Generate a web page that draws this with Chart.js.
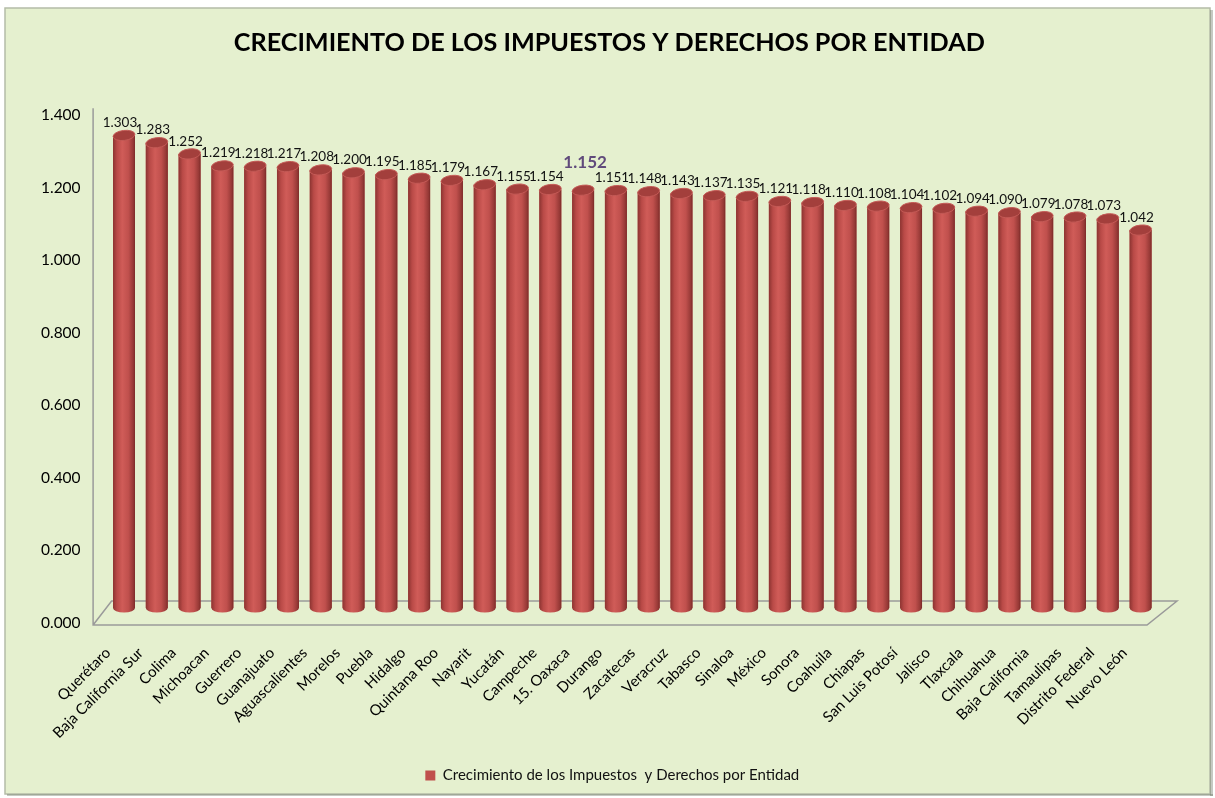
<!DOCTYPE html>
<html>
<head>
<meta charset="utf-8">
<script src="https://cdn.jsdelivr.net/npm/chart.js@4/dist/chart.umd.min.js"></script>
<style>
  html, body { margin: 0; padding: 0; background: #ffffff; }
  canvas { display: block; }
</style>
</head>
<body>
<canvas id="impuestos-chart" width="1215" height="798"></canvas>
<script>
// datos
const entidades = [
  'Querétaro', 'Baja California Sur', 'Colima', 'Michoacan', 'Guerrero', 'Guanajuato',
  'Aguascalientes', 'Morelos', 'Puebla', 'Hidalgo', 'Quintana Roo', 'Nayarit',
  'Yucatán', 'Campeche', '15. Oaxaca', 'Durango', 'Zacatecas', 'Veracruz',
  'Tabasco', 'Sinaloa', 'México', 'Sonora', 'Coahuila', 'Chiapas',
  'San Luis Potosí', 'Jalisco', 'Tlaxcala', 'Chihuahua', 'Baja California',
  'Tamaulipas', 'Distrito Federal', 'Nuevo León'
];
const crecimiento = [
  1.303, 1.283, 1.252, 1.219, 1.218, 1.217,
  1.208, 1.200, 1.195, 1.185, 1.179, 1.167,
  1.155, 1.154, 1.152, 1.151, 1.148, 1.143,
  1.137, 1.135, 1.121, 1.118, 1.110, 1.108,
  1.104, 1.102, 1.094, 1.090, 1.079,
  1.078, 1.073, 1.042
];
const yTicks = [0, 0.2, 0.4, 0.6, 0.8, 1.0, 1.2, 1.4];
const destacado = '15. Oaxaca';

const FONT = 'Lato, "Liberation Sans", sans-serif';

// fondo del panel con borde
const panelPlugin = {
  id: 'panel',
  afterLayout(chart) {
    // el titulo y la leyenda van algo a la derecha, como en Excel
    if (chart.titleBlock) { chart.titleBlock.left += 17; chart.titleBlock.right += 17; }
    if (chart.legend) { chart.legend.left += 20; chart.legend.right += 20; }
  },
  beforeDraw(chart) {
    const ctx = chart.ctx;
    ctx.save();
    ctx.fillStyle = '#ffffff';
    ctx.fillRect(0, 0, chart.width, chart.height);
    ctx.fillStyle = '#e5f0cf';
    ctx.fillRect(5, 8, 1205, 786);
    ctx.strokeStyle = '#b4bca8';
    ctx.lineWidth = 1.5;
    ctx.strokeRect(5, 8, 1205, 786);
    ctx.fillStyle = 'rgba(90,100,80,0.35)';
    ctx.fillRect(1210, 10, 3, 786);
    ctx.fillRect(7, 794, 1206, 2);
    ctx.restore();
  }
};

// piso 3D y eje vertical
const floorPlugin = {
  id: 'floor3d',
  beforeDatasetsDraw(chart) {
    const { ctx, chartArea: a } = chart;
    const front = a.bottom + 17, back = a.bottom - 7;
    ctx.save();
    ctx.strokeStyle = '#9a9a9a';
    ctx.lineWidth = 1.5;
    ctx.beginPath();
    ctx.moveTo(a.left - 14.5, a.top + 8);
    ctx.lineTo(a.left - 14.5, front);
    ctx.lineTo(a.right - 10, front);
    ctx.lineTo(a.right + 20, back);
    ctx.lineTo(a.left + 4, back);
    ctx.lineTo(a.left - 14.5, front);
    ctx.stroke();
    ctx.restore();
  }
};

// sombreado cilindrico sobre las barras + etiquetas de valor
const cylinderPlugin = {
  id: 'cylinder',
  afterDatasetsDraw(chart) {
    const ctx = chart.ctx;
    const meta = chart.getDatasetMeta(0);
    ctx.save();
    meta.data.forEach((bar, i) => {
      const w = bar.width, x0 = bar.x - w / 2, x1 = bar.x + w / 2;
      const ry = 4.5;
      const g = ctx.createLinearGradient(x0, 0, x1, 0);
      g.addColorStop(0, '#8c3431');
      g.addColorStop(0.18, '#b94a47');
      g.addColorStop(0.42, '#d05c58');
      g.addColorStop(0.7, '#c0504d');
      g.addColorStop(0.92, '#963936');
      g.addColorStop(1, '#7a2a28');
      ctx.fillStyle = g;
      ctx.beginPath();
      ctx.moveTo(x0, bar.y);
      ctx.lineTo(x0, bar.base);
      ctx.ellipse(bar.x, bar.base, w / 2, ry, 0, Math.PI, 0, true);
      ctx.lineTo(x1, bar.y);
      ctx.closePath();
      ctx.fill();
      // tapa superior
      ctx.fillStyle = '#a33f3c';
      ctx.beginPath();
      ctx.ellipse(bar.x, bar.y, w / 2, ry + 0.5, -0.12, 0, Math.PI * 2);
      ctx.fill();
      ctx.strokeStyle = '#c45a56';
      ctx.lineWidth = 1;
      ctx.stroke();

      const v = crecimiento[i].toFixed(3);
      ctx.textAlign = 'center';
      ctx.textBaseline = 'bottom';
      if (entidades[i] === destacado) {
        ctx.font = 'bold 17px ' + FONT;
        ctx.fillStyle = '#604a7b';
        ctx.fillText(v, bar.x + 2, bar.y - 19);
      } else {
        ctx.font = '13.5px ' + FONT;
        ctx.fillStyle = '#111111';
        ctx.fillText(v, bar.x - 4, bar.y - 6);
      }
    });
    ctx.restore();
  }
};

new Chart(document.getElementById('impuestos-chart'), {
  type: 'bar',
  data: {
    labels: entidades,
    datasets: [{
      label: 'Crecimiento de los Impuestos  y Derechos por Entidad',
      data: crecimiento,
      backgroundColor: '#c0504d',
      borderWidth: 0,
      barPercentage: 0.67,
      categoryPercentage: 1
    }]
  },
  options: {
    responsive: false,
    animation: false,
    devicePixelRatio: 1,
    layout: { padding: { left: 27.6, right: 58, top: 10, bottom: 5 } },
    plugins: {
      title: {
        display: true,
        text: 'CRECIMIENTO DE LOS IMPUESTOS Y DERECHOS POR ENTIDAD',
        color: '#000000',
        font: { family: FONT, size: 25.2, weight: 'bold' },
        padding: { top: 18, bottom: 42 }
      },
      legend: {
        position: 'bottom',
        labels: {
          boxWidth: 10,
          boxHeight: 10,
          padding: 10,
          color: '#111111',
          font: { family: FONT, size: 15 }
        }
      },
      tooltip: { enabled: false }
    },
    scales: {
      x: {
        grid: { display: false, drawTicks: false },
        border: { display: false },
        ticks: {
          autoSkip: false,
          minRotation: 45,
          maxRotation: 45,
          padding: 36,
          labelOffset: -16,
          color: '#000000',
          font: { family: FONT, size: 15 }
        },
        afterFit(scale) {
          scale.height = 150;
          scale.paddingLeft = 0;
          scale.paddingRight = 0;
        }
      },
      y: {
        min: 0,
        max: 1.4,
        grid: { display: false, drawTicks: false },
        border: { display: false },
        afterBuildTicks(scale) {
          scale.ticks = yTicks.map(v => ({ value: v }));
        },
        ticks: {
          padding: 27,
          labelOffset: 15,
          color: '#000000',
          font: { family: FONT, size: 15.5 },
          callback: v => Number(v).toFixed(3)
        },
        afterFit(scale) {
          scale.width = 80;
        }
      }
    }
  },
  plugins: [panelPlugin, floorPlugin, cylinderPlugin]
});
</script>
</body>
</html>
